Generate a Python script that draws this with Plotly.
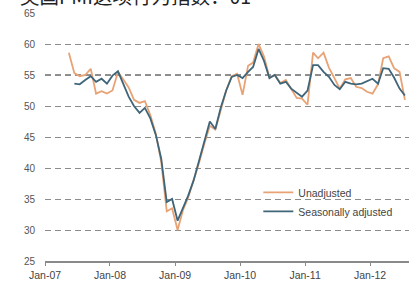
import plotly.graph_objects as go

start_year, start_month = 2007, 5  # first month of the unadjusted series (May-07)

unadjusted = [58.6, 55.3, 54.8, 55.0, 56.0, 52.0, 52.4, 52.0,
              52.5, 55.5, 54.3, 53.0, 51.0, 50.5, 50.8, 48.5, 45.5, 41.0, 33.0, 33.5,
              30.0, 33.3, 35.2, 38.0, 40.8, 44.0, 46.8, 46.2, 49.5, 52.5, 54.8, 55.2,
              51.8, 56.5, 57.0, 60.0, 58.0, 54.6, 55.0, 53.7, 54.2, 52.8, 51.3, 51.2,
              50.2, 58.6, 57.7, 58.6, 56.2, 54.5, 52.8, 54.3, 54.5, 53.1, 52.9, 52.3,
              52.0, 53.5, 57.7, 58.0, 56.1, 55.5, 51.0]

seasonally_adjusted = [None, 53.6, 53.5, 54.2, 54.8, 53.9, 54.4, 53.6,
                       54.9, 55.6, 53.6, 51.5, 50.0, 48.9, 49.7, 48.0, 45.3, 41.5, 34.5, 35.0,
                       31.5, 33.5, 35.5, 38.0, 41.0, 44.5, 47.5, 46.3, 49.8, 52.5, 54.7, 55.0,
                       54.5, 55.5, 56.3, 59.2, 57.3, 54.5, 55.0, 53.6, 53.9, 52.8, 52.2, 51.5,
                       52.5, 56.6, 56.6, 55.5, 54.7, 53.4, 52.7, 53.9, 53.6, 53.5, 53.6, 54.0,
                       54.4, 53.6, 56.1, 56.0, 54.6, 52.8, 51.7]

tick_values = ["2007-01-01", "2008-01-01", "2009-01-01", "2010-01-01", "2011-01-01", "2012-01-01"]
tick_labels = ["Jan-07", "Jan-08", "Jan-09", "Jan-10", "Jan-11", "Jan-12"]
y_ticks = [25, 30, 35, 40, 45, 50, 55, 60, 65]

def month_dates(n):
    out = []
    y, m = start_year, start_month
    for _ in range(n):
        out.append(f"{y:04d}-{m:02d}-15")
        m += 1
        if m > 12:
            m = 1
            y += 1
    return out

dates = month_dates(len(unadjusted))

FONT = "Liberation Sans, Arial, sans-serif"

fig = go.Figure()
fig.add_trace(go.Scatter(x=dates, y=unadjusted, mode="lines", name="Unadjusted",
                         line=dict(color="#E8A274", width=1.8)))
fig.add_trace(go.Scatter(x=dates, y=seasonally_adjusted, mode="lines", name="Seasonally adjusted",
                         line=dict(color="#3F6579", width=1.8)))

# darker dashed line at 55
fig.add_shape(type="line", xref="paper", yref="y", x0=0, x1=1, y0=55, y1=55,
              line=dict(color="#222222", width=1.2, dash="6px,4px"), layer="below")

fig.add_annotation(text="英国PMI这项行为指数：01", xref="paper", yref="paper",
                   x=-0.0735, y=1.07, xanchor="left", yanchor="middle", showarrow=False,
                   font=dict(family="Noto Sans CJK SC", size=19.5, color="#222222"))

fig.update_layout(
    width=409, height=284,
    margin=dict(l=45, r=0, t=13, b=23),
    paper_bgcolor="white", plot_bgcolor="white",
    font=dict(family=FONT, size=10, color="#555555"),
    showlegend=True,
    legend=dict(x=0.586, y=0.335, xanchor="left", yanchor="top",
                bgcolor="rgba(0,0,0,0)", font=dict(family=FONT, size=10.5, color="#444444"),
                itemwidth=30, tracegroupgap=0),
    xaxis=dict(type="date", range=["2007-01-01", "2012-08-07"],
               tickvals=tick_values, ticktext=tick_labels,
               showgrid=False, zeroline=False,
               showline=True, linecolor="#8a8a8a", linewidth=2,
               ticks="outside", ticklen=3, tickcolor="#8a8a8a",
               tickfont=dict(family=FONT, size=10.5, color="#444444")),
    yaxis=dict(range=[25, 65], tickvals=y_ticks, showline=False, zeroline=False,
               showgrid=True, gridcolor="#8c8c8c", gridwidth=1.2, griddash="6px,4px",
               ticks="", ticklabelstandoff=9,
               tickfont=dict(family=FONT, size=10, color="#555555")),
)

fig.write_html("out.html", config={"displayModeBar": False},
               post_script="document.body.style.margin='0px';")
